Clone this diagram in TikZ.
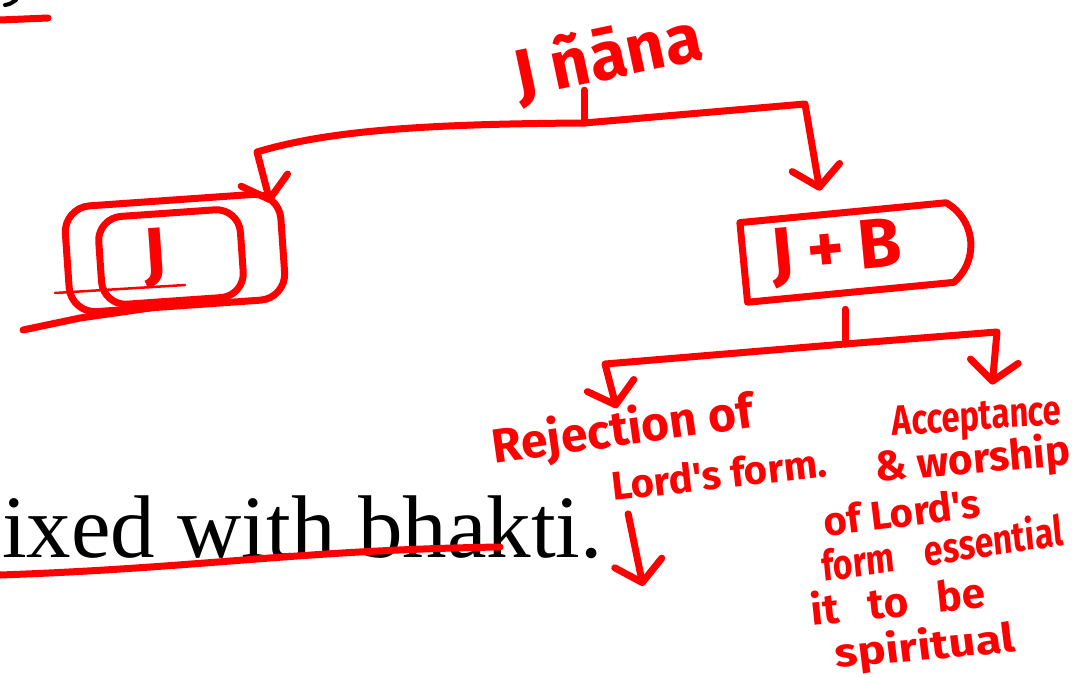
\documentclass[tikz,border=0pt]{standalone}
\usepackage{fontspec}
\setmainfont{Liberation Serif}
\newfontfamily\handfont{Fira Sans}
\usetikzlibrary{arrows.meta,shapes.misc,calc}
\definecolor{ink}{RGB}{255,0,0}

\begin{document}
\begin{tikzpicture}[x=1pt,y=-1pt,
  pen/.style={draw=ink,line width=7pt,line cap=round,line join=round},
  tipped/.style={-{Straight Barb[length=20pt,width=48pt,round]}},
  hand/.style={text=ink,inner sep=0pt,font=\handfont\bfseries\fontsize{#1}{#1}\selectfont},
  box/.style={pen,inner sep=0pt},
]
\useasboundingbox (0,0) rectangle (1077,677);

% printed line of text underneath the notes
\node[anchor=base west,inner sep=0pt,font=\fontsize{89}{89}\selectfont] (phrase) at (2,557) {ixed with bhakti.};
\draw[line width=4pt,line cap=round] (5,5) .. controls (10,4) .. (16,0);
\draw[pen] (0,20) -- (48,18);
\draw[pen] (0,575) .. controls (200,568) and (300,550) .. (500,547);

% top of the tree
\node[hand=68,rotate=12] (root) at (608,58) {J ñāna};

% left branch: the boxed J
\node[box,rounded corners=26pt,minimum width=216pt,minimum height=106pt,rotate=4] (boxJ) at (175,253) {};
\node[box,rounded corners=24pt,minimum width=142pt,minimum height=88pt,rotate=4,hand=70] (innerJ) at (171,257) {J\hspace*{32pt}};
\draw[ink,line width=2.5pt,line cap=round] (55,293) -- (185,285);
\draw[pen] (23,330) -- (80,318) -- (150,308);

% right branch: J + B
\node[box,shape=rounded rectangle,rounded rectangle left arc=none,rounded rectangle arc length=110,
      minimum width=228pt,minimum height=80pt,rotate=5.5,hand=70] (boxJB) at (852,252)
      {J\hspace{14pt}+\hspace{14pt}B\hspace*{30pt}};

% two outcomes of J + B
\node[hand=48,rotate=8] (rej1) at (623,431) {Rejection of};
\node[hand=40,rotate=6.5] (rej2) at (719,474) {Lord's form.};

\node[hand=42,xscale=0.78,rotate=3] (acc1) at (977,420) {Acceptance};
\node[hand=42,rotate=5] (acc2) at (973,461) {\& worship};
\node[hand=40,rotate=7] (acc3) at (902,512) {of Lord's};
\node[hand=42,xscale=0.8,rotate=7,anchor=base west] (acc4) at (823,582) {form\hspace{0.9em}essential};
\node[hand=42,rotate=6] (acc5) at (898,600) {it\hspace{0.7em}to\hspace{0.7em}be};
\node[hand=40,xscale=1.18,rotate=6] (acc6) at (925,648) {spiritual};

% connectors
\coordinate (hub1) at (584,123);
\coordinate (elbowL) at (257,152);
\coordinate (elbowR) at (805,104);
\draw[pen] (root.south -| hub1) -- (hub1);
\draw[pen,tipped] (hub1) .. controls (430,124) and (330,130) .. (elbowL) -- ($(boxJ.north east)+(-12,14)$);
\draw[pen,tipped] (hub1) -- (elbowR) -- ($(boxJB.north)+(-28,-18)$);

\coordinate (hub2) at (845,344);
\coordinate (elbowRL) at (605,364);
\coordinate (elbowRR) at (997,332);
\draw[pen] ($(boxJB.south -| hub2)+(0,14)$) -- (hub2);
\draw[pen,tipped] (hub2) -- (elbowRL) -- ($(rej1.north)+(-3,2)$);
\draw[pen,tipped] (hub2) -- (elbowRR) -- ($(acc1.north)+(16,-16)$);

\coordinate (downEnd) at (643,586);
\draw[pen,tipped] ($(rej2.south west)+(15,12)$) -- (downEnd);
\end{tikzpicture}
\end{document}
